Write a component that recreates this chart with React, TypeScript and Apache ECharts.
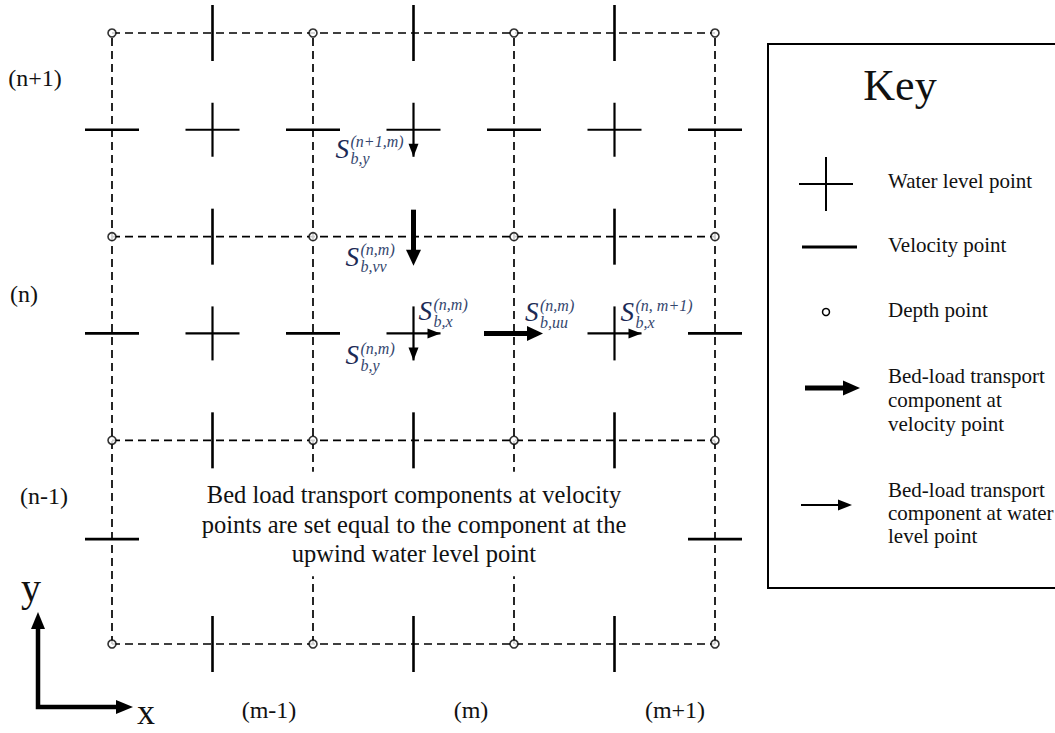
import React, { useEffect, useRef } from "react";
import * as echarts from "echarts";

// ---- Data (grid units: x faces 0..6, y faces 0..6) ----
const gridLinesX = [0, 2, 4, 6];
const gridLinesY = [0, 2, 4, 6];
const depthPoints = [
  [0, 0], [2, 0], [4, 0], [6, 0],
  [0, 2], [2, 2], [4, 2], [6, 2],
  [0, 4], [2, 4], [4, 4], [6, 4],
  [0, 6], [2, 6], [4, 6], [6, 6],
];
const waterLevelPoints = [
  [1, 5.05], [3, 5.05], [5, 5.05],
  [1, 3.05], [3, 3.05], [5, 3.05],
];
const uVelocityPoints = [
  [0, 5.05], [2, 5.05], [4, 5.05], [6, 5.05],
  [0, 3.05], [2, 3.05], [6, 3.05],
  [0, 1.03], [6, 1.03],
];
const vVelocityPoints = [
  [1, 6], [3, 6], [5, 6],
  [1, 4], [5, 4],
  [1, 2], [3, 2], [5, 2],
  [1, 0], [3, 0], [5, 0],
];
const thickArrowsX = [[4, 3.05]];
const thickArrowsY = [[3, 4]];
const thinArrowsX = [[3, 3.05], [5, 3.05]];
const thinArrowsY = [[3, 5.05], [3, 3.05]];

const labelAnchors = [[3, 5.05], [3, 4], [3, 3.05], [3, 3.05], [4, 3.05], [5, 3.05]];
const labelSup = ["(n+1,m)", "(n,m)", "(n,m)", "(n,m)", "(n,m)", "(n, m+1)"];
const labelSub = ["b,y", "b,vv", "b,x", "b,y", "b,uu", "b,x"];
const rowLabels = ["(n+1)", "(n)", "(n-1)"];
const colLabels = ["(m-1)", "(m)", "(m+1)"];
const keyTitle = "Key";
const keyItems = [
  "Water level point",
  "Velocity point",
  "Depth point",
  "Bed-load transport\ncomponent at\nvelocity point",
  "Bed-load transport\ncomponent at water\nlevel point",
];
const noteText =
  "Bed load transport components at velocity\npoints are set equal to the component at the\nupwind water level point";

// ---- Styles / layout (pixels) ----
const labelOffsets = [[-78, 19], [-68, 20], [5, -22], [-68, 22], [11, -21], [6, -21]];
const rowLabelPos = [[35, 78], [24, 294], [44, 496]];
const colLabelPos = [[269, 710], [471, 710], [675, 710]];
const SERIF = '"Liberation Serif", "Times New Roman", serif';
const ARM = 27;
const BLACK = "#000";

function segData() {
  const segs: number[][] = [];
  gridLinesX.forEach((x) => segs.push([x, gridLinesY[0], x, gridLinesY[gridLinesY.length - 1]]));
  gridLinesY.forEach((y) => segs.push([gridLinesX[0], y, gridLinesX[gridLinesX.length - 1], y]));
  return segs;
}

function line(x1: number, y1: number, x2: number, y2: number, w: number) {
  return { type: "line", shape: { x1, y1, x2, y2 }, style: { stroke: BLACK, lineWidth: w } };
}

function head(tx: number, ty: number, dir: "right" | "down", len: number, half: number) {
  const pts =
    dir === "right"
      ? [[tx, ty], [tx - len, ty - half], [tx - len, ty + half]]
      : [[tx, ty], [tx - half, ty - len], [tx + half, ty - len]];
  return { type: "polygon", shape: { points: pts }, style: { fill: BLACK } };
}

export default function App() {
  const ref = useRef<HTMLDivElement>(null);
  useEffect(() => {
    if (!ref.current) return;
    const chart = echarts.init(ref.current, undefined, { renderer: "svg" });

    const legendX = 826;
    const txt = (text: string, x: number, y: number, size: number, align = "left", extra: any = {}) => ({
      type: "text",
      z: 100,
      style: {
        text,
        x,
        y,
        font: `${size}px ${SERIF}`,
        fill: "#111",
        align,
        verticalAlign: "middle",
        ...extra,
      },
    });

    const option: any = {
      animation: false,
      backgroundColor: "#fff",
      grid: { left: 112, top: 33, width: 603, height: 611 },
      xAxis: { type: "value", min: 0, max: 6, show: false },
      yAxis: { type: "value", min: 0, max: 6, show: false },
      series: [
        {
          name: "grid",
          type: "custom",
          z: 1,
          data: segData(),
          renderItem: (params: any, api: any) => {
            const a = api.coord([api.value(0), api.value(1)]);
            const b = api.coord([api.value(2), api.value(3)]);
            return {
              type: "line",
              shape: { x1: a[0], y1: a[1], x2: b[0], y2: b[1] },
              style: { stroke: BLACK, lineWidth: 1.7, lineDash: [8, 5] },
            };
          },
        },
        {
          name: "water level",
          type: "custom",
          z: 3,
          data: waterLevelPoints,
          renderItem: (params: any, api: any) => {
            const p = api.coord([api.value(0), api.value(1)]);
            return {
              type: "group",
              children: [
                line(p[0] - ARM, p[1], p[0] + ARM, p[1], 2.2),
                line(p[0], p[1] - ARM, p[0], p[1] + ARM, 2.2),
              ],
            };
          },
        },
        {
          name: "u velocity",
          type: "custom",
          z: 3,
          data: uVelocityPoints,
          renderItem: (params: any, api: any) => {
            const p = api.coord([api.value(0), api.value(1)]);
            return line(p[0] - ARM, p[1], p[0] + ARM, p[1], 2.6);
          },
        },
        {
          name: "v velocity",
          type: "custom",
          z: 3,
          data: vVelocityPoints,
          renderItem: (params: any, api: any) => {
            const p = api.coord([api.value(0), api.value(1)]);
            return line(p[0], p[1] - 28, p[0], p[1] + 28, 2.6);
          },
        },
        {
          name: "depth",
          type: "scatter",
          z: 4,
          symbol: "circle",
          symbolSize: 8,
          itemStyle: { color: "#fff", borderColor: BLACK, borderWidth: 1.6 },
          data: depthPoints,
        },
        {
          name: "thick x",
          type: "custom",
          z: 5,
          data: thickArrowsX,
          renderItem: (params: any, api: any) => {
            const p = api.coord([api.value(0), api.value(1)]);
            return {
              type: "group",
              children: [line(p[0] - 30, p[1], p[0] + 16, p[1], 5), head(p[0] + 29, p[1], "right", 16, 7.5)],
            };
          },
        },
        {
          name: "thick y",
          type: "custom",
          z: 5,
          data: thickArrowsY,
          renderItem: (params: any, api: any) => {
            const p = api.coord([api.value(0), api.value(1)]);
            return {
              type: "group",
              children: [line(p[0], p[1] - 27, p[0], p[1] + 15, 5), head(p[0], p[1] + 29, "down", 16, 7.5)],
            };
          },
        },
        {
          name: "thin x",
          type: "custom",
          z: 5,
          data: thinArrowsX,
          renderItem: (params: any, api: any) => {
            const p = api.coord([api.value(0), api.value(1)]);
            return head(p[0] + ARM, p[1], "right", 13, 5);
          },
        },
        {
          name: "thin y",
          type: "custom",
          z: 5,
          data: thinArrowsY,
          renderItem: (params: any, api: any) => {
            const p = api.coord([api.value(0), api.value(1)]);
            return head(p[0], p[1] + ARM, "down", 13, 5);
          },
        },
        {
          name: "labels",
          type: "custom",
          z: 6,
          data: labelAnchors,
          renderItem: (params: any, api: any) => {
            const i = params.dataIndex;
            const p = api.coord([api.value(0), api.value(1)]);
            const sx = p[0] + labelOffsets[i][0];
            const sy = p[1] + labelOffsets[i][1];
            return {
              type: "group",
              children: [
                {
                  type: "text",
                  style: {
                    text: "S",
                    x: sx,
                    y: sy,
                    font: `italic 27px ${SERIF}`,
                    fill: "#1b2a55",
                    align: "left",
                    verticalAlign: "middle",
                  },
                },
                {
                  type: "text",
                  style: {
                    text: labelSup[i],
                    x: sx + 15,
                    y: sy - 7,
                    font: `italic 16px ${SERIF}`,
                    fill: "#34466e",
                    align: "left",
                    verticalAlign: "middle",
                  },
                },
                {
                  type: "text",
                  style: {
                    text: labelSub[i],
                    x: sx + 15,
                    y: sy + 10,
                    font: `italic 16px ${SERIF}`,
                    fill: "#34466e",
                    align: "left",
                    verticalAlign: "middle",
                  },
                },
              ],
            };
          },
        },
      ],
      graphic: [
        // note box
        txt(noteText, 414, 524, 24.5, "center", {
          lineHeight: 29.5,
          backgroundColor: "#fff",
          padding: [8, 6, 8, 6],
        }),
        // row / column labels
        ...rowLabels.map((t, i) => txt(t, rowLabelPos[i][0], rowLabelPos[i][1], 24, "center")),
        ...colLabels.map((t, i) => txt(t, colLabelPos[i][0], colLabelPos[i][1], 24, "center")),
        // axes indicator
        {
          type: "polyline",
          z: 100,
          shape: { points: [[38, 628], [38, 707], [118, 707]] },
          style: { stroke: BLACK, lineWidth: 4.5, fill: "none", lineJoin: "miter" },
        },
        {
          type: "polygon",
          z: 100,
          shape: { points: [[38, 612], [31, 629], [45, 629]] },
          style: { fill: BLACK },
        },
        {
          type: "polygon",
          z: 100,
          shape: { points: [[133, 707], [116, 700], [116, 714]] },
          style: { fill: BLACK },
        },
        txt("y", 31, 587, 40, "center"),
        txt("x", 146, 712, 36, "center"),
        // key box
        {
          type: "rect",
          z: 100,
          shape: { x: 768, y: 44, width: 300, height: 544 },
          style: { stroke: BLACK, lineWidth: 2, fill: "none" },
        },
        txt(keyTitle, 900, 85, 44, "center"),
        // key symbols
        { type: "line", z: 100, shape: { x1: legendX - 27, y1: 184, x2: legendX + 27, y2: 184 }, style: { stroke: BLACK, lineWidth: 2 } },
        { type: "line", z: 100, shape: { x1: legendX, y1: 157, x2: legendX, y2: 211 }, style: { stroke: BLACK, lineWidth: 2 } },
        { type: "line", z: 100, shape: { x1: 802, y1: 247, x2: 857, y2: 247 }, style: { stroke: BLACK, lineWidth: 3 } },
        { type: "circle", z: 100, shape: { cx: legendX, cy: 312, r: 3.5 }, style: { stroke: BLACK, lineWidth: 1.5, fill: "#fff" } },
        { type: "line", z: 100, shape: { x1: 805, y1: 388, x2: 845, y2: 388 }, style: { stroke: BLACK, lineWidth: 5 } },
        { type: "polygon", z: 100, shape: { points: [[860, 388], [843, 380.5], [843, 395.5]] }, style: { fill: BLACK } },
        { type: "line", z: 100, shape: { x1: 801, y1: 505, x2: 840, y2: 505 }, style: { stroke: BLACK, lineWidth: 2 } },
        { type: "polygon", z: 100, shape: { points: [[852, 505], [838, 499.5], [838, 510.5]] }, style: { fill: BLACK } },
        // key texts
        txt(keyItems[0], 888, 181, 21),
        txt(keyItems[1], 888, 245, 21),
        txt(keyItems[2], 888, 310, 21),
        txt(keyItems[3], 888, 400, 21, "left", { lineHeight: 24 }),
        txt(keyItems[4], 888, 513, 21, "left", { lineHeight: 23 }),
      ],
    };

    chart.setOption(option);
    return () => chart.dispose();
  }, []);

  return (
    <div
      ref={ref}
      style={{ position: "absolute", left: 0, top: 0, width: 1055, height: 733, background: "#fff" }}
    />
  );
}
